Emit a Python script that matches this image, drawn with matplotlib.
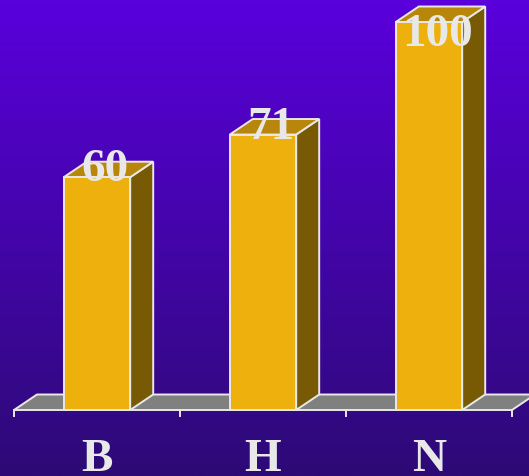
import numpy as np
import matplotlib
matplotlib.use("Agg")
import matplotlib.pyplot as plt
from matplotlib.patches import Polygon

categories = ["B", "H", "N"]
values = [60, 71, 100]

W, H = 529, 477
fig = plt.figure(figsize=(W / 100, H / 100), dpi=100)
ax = fig.add_axes([0, 0, 1, 1])

# pixel-to-data mapping
px_x0, px_unit = 14.0, 166.0
px_y0, px_per_val = 411.0, 3.88
xmin = -px_x0 / px_unit
xmax = (W - px_x0) / px_unit
ymax = px_y0 / px_per_val
ymin = -(H - px_y0) / px_per_val
ax.set_xlim(xmin, xmax)
ax.set_ylim(ymin, ymax)
ax.axis("off")

# background gradient
top = np.array([90, 0, 220]) / 255
bot = np.array([45, 10, 118]) / 255
t = np.linspace(0, 1, 256)[:, None]
grad = top[None, :] * (1 - t) + bot[None, :] * t
grad = grad[:, None, :].repeat(2, axis=1)
ax.imshow(grad, extent=[xmin, xmax, ymin, ymax], aspect="auto", zorder=0, origin="upper")

dx = 23 / px_unit
dy = 15.5 / px_per_val
edge = "#E8E8E8"
lw = 1.4

n = len(categories)
# floor
floor = Polygon([(0, 0), (n, 0), (n + dx, dy), (dx, dy)], closed=True,
                facecolor="#808080", edgecolor=edge, lw=lw, zorder=1)
ax.add_patch(floor)
# ticks
for i in range(n + 1):
    ax.plot([i, i], [0, -6 / px_per_val], color=edge, lw=lw, zorder=1)

bw = 0.4
front_c = "#EDB00C"
top_c = "#B8860A"
side_c = "#785A05"
for i, (c, v) in enumerate(zip(categories, values)):
    x0 = i + 0.5 - bw / 2
    x1 = i + 0.5 + bw / 2
    side = Polygon([(x1, 0), (x1 + dx, dy), (x1 + dx, v + dy), (x1, v)], closed=True,
                   facecolor=side_c, edgecolor=edge, lw=lw, zorder=2)
    topp = Polygon([(x0, v), (x1, v), (x1 + dx, v + dy), (x0 + dx, v + dy)], closed=True,
                   facecolor=top_c, edgecolor=edge, lw=lw, zorder=2)
    front = Polygon([(x0, 0), (x1, 0), (x1, v), (x0, v)], closed=True,
                    facecolor=front_c, edgecolor=edge, lw=lw, zorder=3)
    for p in (side, topp, front):
        ax.add_patch(p)
    ax.text(i + 0.5 + 0.05, min(v - 0.8, 94.0), str(v), ha="center", va="baseline",
            fontsize=34, fontweight="bold", family="Liberation Serif", color=edge, zorder=4)
    ax.text(i + 0.5, -60 / px_per_val, c, ha="center", va="baseline",
            fontsize=34, fontweight="bold", family="Liberation Serif", color=edge, zorder=4)

fig.savefig("out.png", dpi=100)
